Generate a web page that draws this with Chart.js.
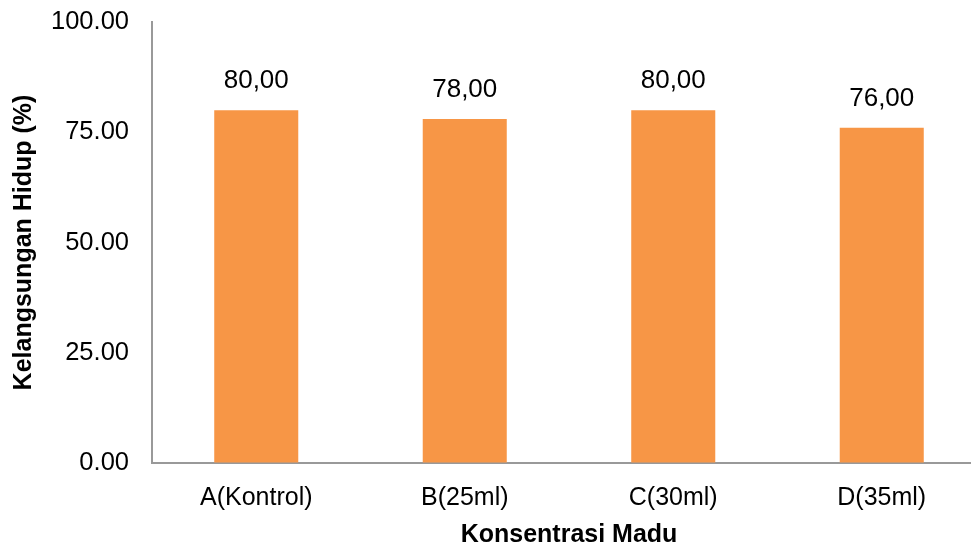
<!DOCTYPE html>
<html>
<head>
<meta charset="utf-8">
<script src="https://cdn.jsdelivr.net/npm/chart.js@4"></script>
<style>
    html, body { margin: 0; padding: 0; overflow: hidden; background: #fff; }
    #wrap { width: 1000px; height: 550px; position: relative; }
</style>
</head>
<body>
<div id="wrap"><canvas id="chart"></canvas></div>
<script>
const categories = ['A(Kontrol)', 'B(25ml)', 'C(30ml)', 'D(35ml)'];
const survival = [80, 78, 80, 76];
const yTicks = [0, 25, 50, 75, 100];

// label nilai di atas batang
const valueLabels = {
    id: 'valueLabels',
    afterDatasetsDraw(chart) {
        const ctx = chart.ctx;
        const meta = chart.getDatasetMeta(0);
        ctx.save();
        ctx.font = '26px "Liberation Sans", Arial, sans-serif';
        ctx.fillStyle = '#000';
        ctx.textAlign = 'center';
        ctx.textBaseline = 'alphabetic';
        meta.data.forEach((bar, i) => {
            const text = survival[i].toFixed(2).replace('.', ',');
            ctx.fillText(text, bar.x, bar.y - 22);
        });
        ctx.restore();
    }
};

const ctx = document.getElementById('chart').getContext('2d');
new Chart(ctx, {
    type: 'bar',
    data: {
        labels: categories,
        datasets: [{
            data: survival,
            backgroundColor: '#F79646',
            borderWidth: 0,
            categoryPercentage: 1,
            barPercentage: 0.403
        }]
    },
    options: {
        responsive: true,
        maintainAspectRatio: false,
        animation: false,
        layout: {
            padding: { top: 22, right: 14, bottom: 0, left: 0 }
        },
        plugins: {
            legend: { display: false },
            tooltip: { enabled: false }
        },
        scales: {
            x: {
                grid: { drawOnChartArea: false, drawTicks: false },
                border: { display: true, color: '#999999', width: 2 },
                ticks: {
                    color: '#000',
                    padding: 20,
                    font: { family: '"Liberation Sans", Arial, sans-serif', size: 25 }
                },
                title: {
                    display: true,
                    text: 'Konsentrasi Madu',
                    color: '#000',
                    padding: 0,
                    font: { family: '"Liberation Sans", Arial, sans-serif', size: 25, weight: 'bold' }
                },
                afterFit(scale) {
                    scale.height = 87;
                    scale.paddingLeft = 0;
                    scale.paddingRight = 0;
                }
            },
            y: {
                min: 0,
                max: 100,
                grid: { drawOnChartArea: false, drawTicks: false },
                border: { display: true, color: '#999999', width: 2 },
                afterBuildTicks(scale) {
                    scale.ticks = yTicks.map(v => ({ value: v }));
                },
                ticks: {
                    color: '#000',
                    padding: 23,
                    font: { family: '"Liberation Sans", Arial, sans-serif', size: 25.5 },
                    callback: v => Number(v).toFixed(2)
                },
                title: {
                    display: true,
                    text: 'Kelangsungan Hidup (%)',
                    color: '#000',
                    padding: { top: 9, bottom: 0 },
                    font: { family: '"Liberation Sans", Arial, sans-serif', size: 25, weight: 'bold' }
                },
                afterFit(scale) {
                    scale.width = 152;
                    scale.paddingTop = 0;
                    scale.paddingBottom = 0;
                }
            }
        }
    },
    plugins: [valueLabels]
});
</script>
</body>
</html>
